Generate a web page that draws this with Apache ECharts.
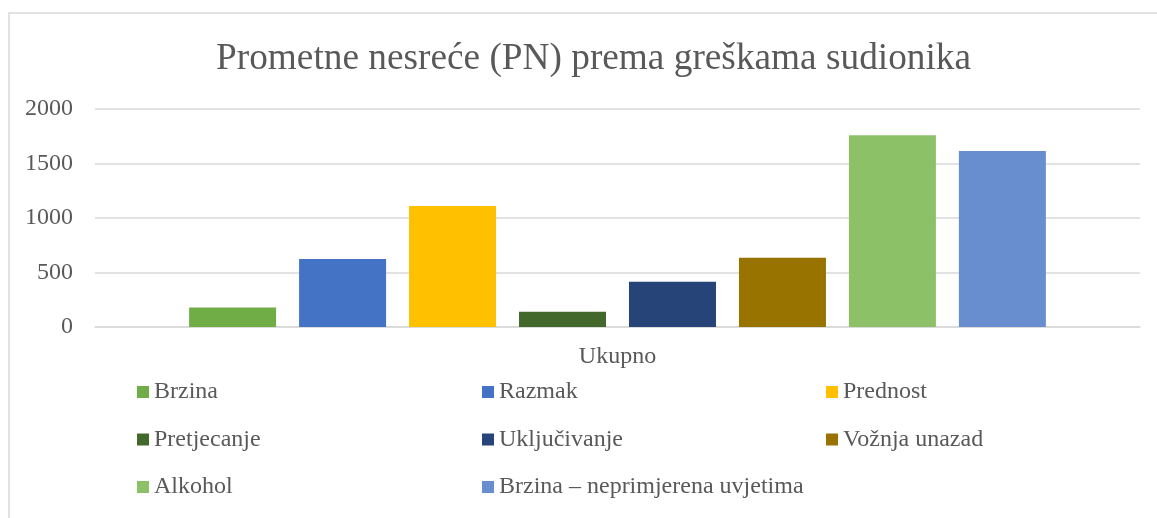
<!DOCTYPE html>
<html>
<head>
<meta charset="utf-8">
<script src="https://cdn.jsdelivr.net/npm/echarts@6/dist/echarts.min.js"></script>
<style>html,body{margin:0;padding:0;background:#fff}#c{width:1157px;height:518px}</style>
</head>
<body>
<div id="c"></div>
<script>
const categories = ['Ukupno'];
const seriesNames = ['Brzina','Razmak','Prednost','Pretjecanje','Uključivanje','Vožnja unazad','Alkohol','Brzina – neprimjerena uvjetima'];
const seriesValues = [180, 625, 1110, 140, 415, 635, 1760, 1615];
const colors = ['#70AD47','#4472C4','#FFC000','#43682B','#264478','#997300','#8CC168','#698ED0'];
const yTicks = [0, 500, 1000, 1500, 2000];

const font = '"Liberation Serif", "Times New Roman", serif';
const txt = '#595959';
const chart = echarts.init(document.getElementById('c'));
const legendCols = [[0,3,6],[1,4,7],[2,5]];
const legendLefts = [137, 482, 826];
chart.setOption({
  animation: false,
  graphic: [{type:'rect', shape:{x:9, y:13, width:1400, height:700}, style:{fill:'none', stroke:'#D9D9D9', lineWidth:1.5}, silent:true}],
  title: {text:'Prometne nesreće (PN) prema greškama sudionika', left:211, top:36,
    textStyle:{fontFamily:font, fontSize:37.3, fontWeight:'normal', color:txt}},
  legend: legendCols.map((col,i)=>({
    orient:'vertical', left:legendLefts[i], top:380, padding:0, itemWidth:12, itemHeight:12, itemGap:23.5,
    icon:'rect', selectedMode:false,
    data: col.map(k=>seriesNames[k]),
    textStyle:{fontFamily:font, fontSize:24, color:txt, lineHeight:24}
  })),
  grid:{left:95, right:17, top:109, bottom:191},
  xAxis:{type:'category', data:categories,
    axisLine:{lineStyle:{color:'#D9D9D9', width:1.5}}, axisTick:{show:false},
    axisLabel:{fontFamily:font, fontSize:24, color:txt, margin:18}},
  yAxis:{type:'value', min:yTicks[0], max:yTicks[yTicks.length-1], interval:500,
    axisLine:{show:false}, axisTick:{show:false},
    splitLine:{lineStyle:{color:'#D9D9D9', width:1.5}},
    axisLabel:{fontFamily:font, fontSize:24, color:txt, margin:22, formatter:v=>String(v)}},
  series: seriesNames.map((n,i)=>({
    name:n, type:'bar', data:[seriesValues[i]], barWidth:87, barGap:'26.4%',
    itemStyle:{color:colors[i]}
  }))
});
</script>
</body>
</html>
